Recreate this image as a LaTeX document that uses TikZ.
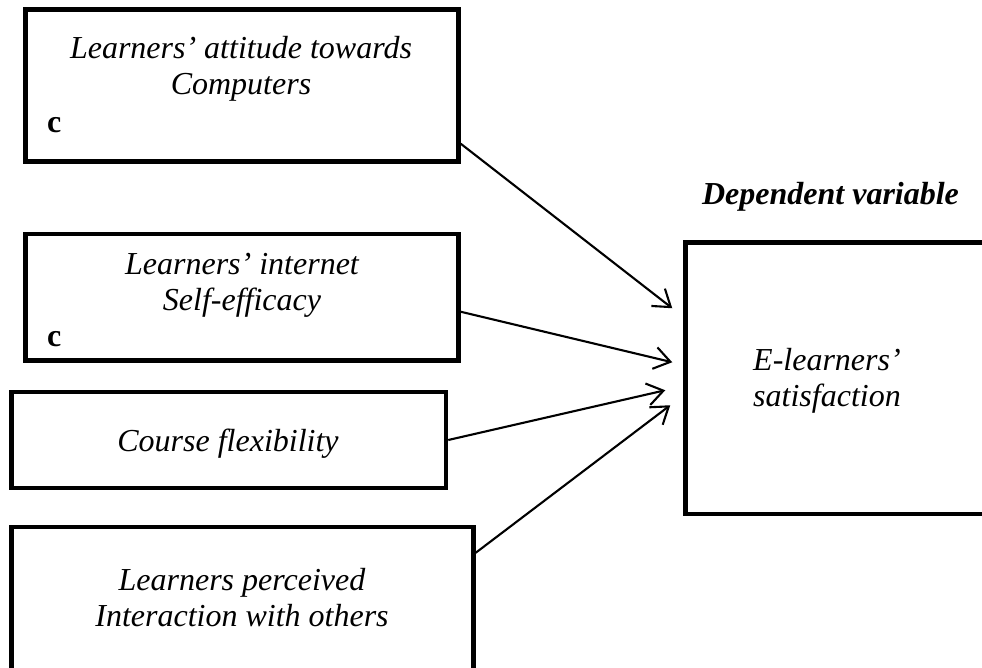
\documentclass[tikz,border=0pt]{standalone}
\usepackage{fontspec}
\setmainfont{Liberation Serif}
\usetikzlibrary{arrows.meta,positioning}
\tikzset{
  varbox/.style={rectangle,draw=black,line width=4.5pt,inner sep=0pt},
  vartext/.style={inner sep=0pt,align=center,
                  font=\fontsize{32}{36}\selectfont\itshape},
  cmark/.style={inner sep=0pt,font=\fontsize{32}{36}\selectfont\bfseries},
  headtext/.style={inner sep=0pt,font=\fontsize{32}{36}\selectfont\bfseries\itshape},
  arr/.style={-{Straight Barb[length=16pt,width=22pt]},line width=2.1pt}
}

\begin{document}
\begin{tikzpicture}[x=1pt,y=-1pt]
  \useasboundingbox (0,0) rectangle (982,668);
  \clip (0,0) rectangle (982,668);

  % independent variables (left column)
  \node[varbox,minimum width=433pt,minimum height=152pt] (att) at (242,85.5) {};
  \node[varbox,minimum width=433pt,minimum height=126.5pt] (net) at (242,297.25) {};
  \node[varbox,minimum width=434.5pt,minimum height=96pt] (crs) at (228.75,440) {};
  \node[varbox,minimum width=462pt,minimum height=183pt] (int) at (242.5,618.5) {};

  % base = baseline of the last line
  \node[vartext,anchor=base] (attT) at (241,95) {Learners' attitude towards\\Computers};
  \node[cmark,anchor=base west] (attC) at (47,133) {c};
  \node[vartext,anchor=base] (netT) at (242,310) {Learners' internet\\Self-efficacy};
  \node[cmark,anchor=base west] (netC) at (47,346.7) {c};
  \node[vartext,anchor=base] (crsT) at (228,451.7) {Course flexibility};
  \node[vartext,anchor=base] (intT) at (242,626.7) {Learners perceived\\Interaction with others};

  % dependent variable (right)
  \node[varbox,minimum width=324.5pt,minimum height=271.5pt] (sat) at (847.75,378.25) {};
  \node[headtext,anchor=base] (dep) at (830.5,205) {Dependent variable};
  \node[vartext,align=left,anchor=base west] (satT) at (753,406.7) {E-learners'\\satisfaction};

  % arrow ends in front of the box
  \coordinate (in1) at ([shift={(-11pt,70pt)}]sat.west);
  \coordinate (in2) at ([shift={(-11pt,16pt)}]sat.west);
  \coordinate (in3) at ([shift={(-18pt,-12pt)}]sat.west);
  \coordinate (in4) at ([shift={(-13pt,-27pt)}]sat.west);

  \draw[arr] ([yshift=20pt]att.south east) -- (in1);
  \draw[arr] ([yshift=-14.5pt]net.east) -- (in2);
  \draw[arr] (crs.east) -- (in3);
  \draw[arr] ([yshift=-28pt]int.north east) -- (in4);

\end{tikzpicture}
\end{document}
